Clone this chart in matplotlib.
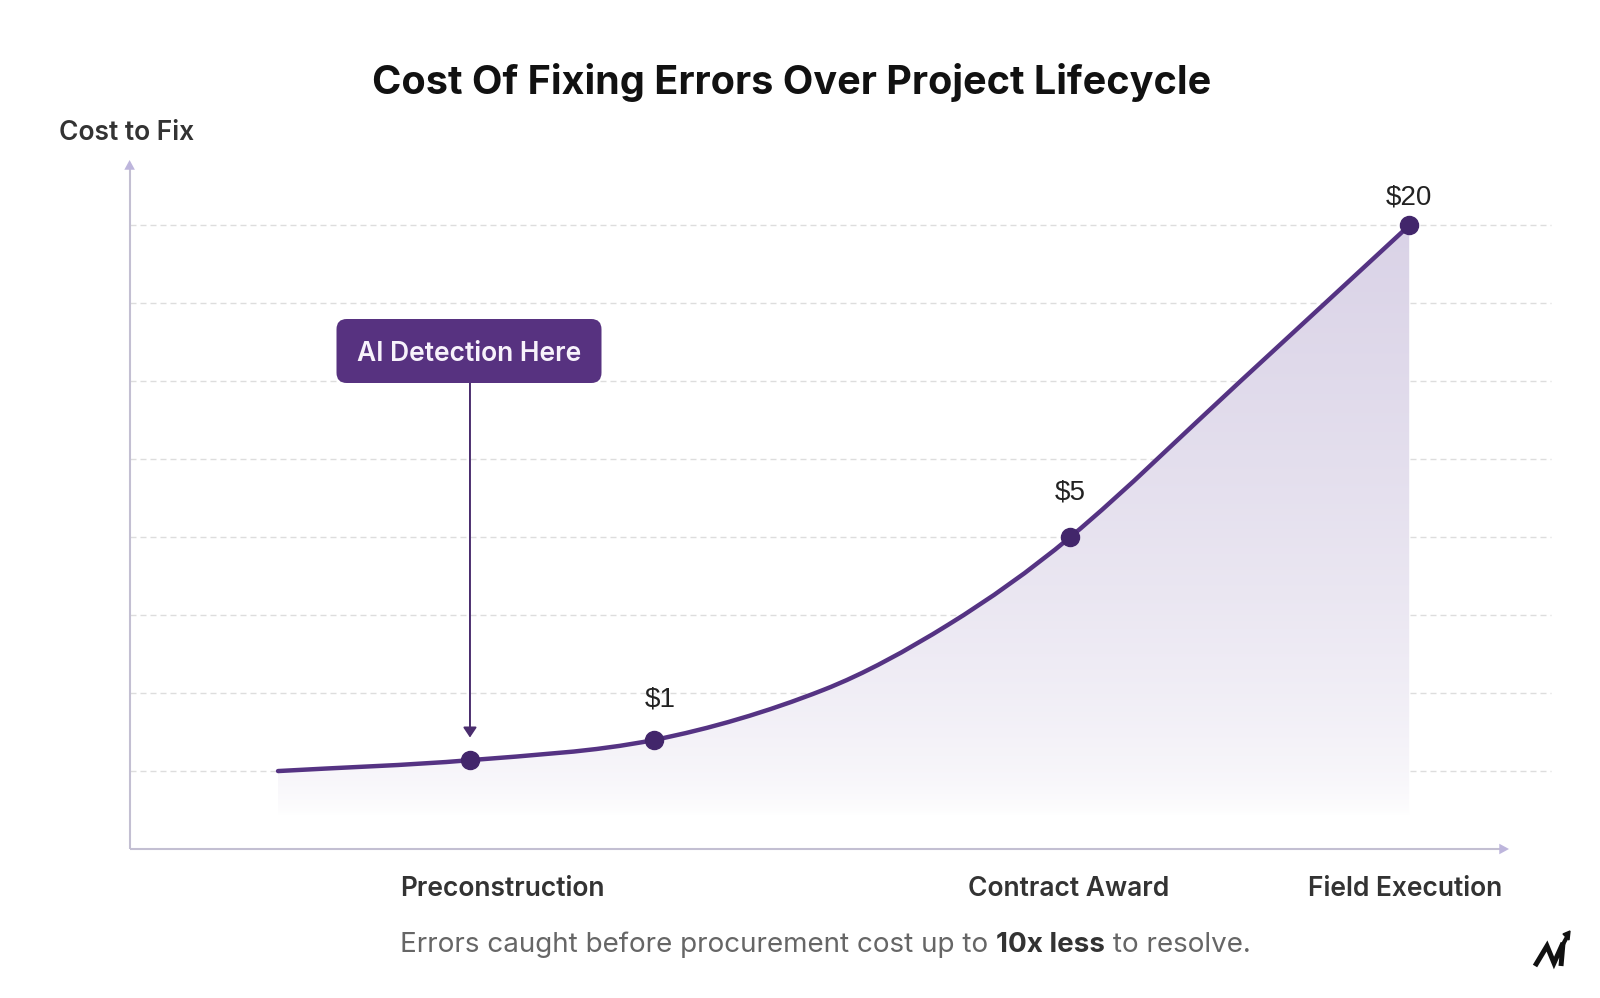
import matplotlib
matplotlib.use("Agg")
import numpy as np
import matplotlib.pyplot as plt
from matplotlib.patches import Polygon, FancyBboxPatch, PathPatch
from matplotlib.path import Path
from matplotlib.lines import Line2D

# curve (x = project progress, y = relative cost height)
curve_x = [11.6, 26.6, 41.0, 54.2, 64.0, 73.5, 86.8, 100.0]
curve_y = [1.00, 1.14, 1.40, 2.04, 2.88, 4.00, 6.00, 8.00]

cost_labels = ["$1", "$5", "$20"]
cost_x = [41.0, 73.5, 100.0]
cost_y = [1.40, 4.00, 8.00]

ai_label = "AI Detection Here"
ai_x = 26.6
ai_y = 1.14

stage_labels = ["Preconstruction", "Contract Award", "Field Execution"]
stage_x = [29.1, 73.4, 99.7]

grid_levels = [1, 2, 3, 4, 5, 6, 7, 8]

title = "Cost Of Fixing Errors Over Project Lifecycle"
y_title = "Cost to Fix"
note_parts = ["Errors caught before procurement cost up to ", "10x less", " to resolve."]

# layout: pixel scale of the data units
W, H = 1600, 998
PX_X, PX_Y = 12.796, 77.94
X0_PX, Y0_PX = 129.6, 849.0

LINE = "#553383"
DOT = "#42266b"
BOX = "#573280"
AXIS = "#c3bfd2"
HEAD = "#bdb5dc"
TXT = "#333333"

plt.rcParams["font.family"] = ["Inter", "DejaVu Sans"]

fig = plt.figure(figsize=(W / 100, H / 100), dpi=100)
ax = fig.add_axes([0, 0, 1, 1])
ax.set_xlim(-X0_PX / PX_X, (W - X0_PX) / PX_X)
ax.set_ylim(-(H - Y0_PX) / PX_Y, Y0_PX / PX_Y)
ax.set_autoscale_on(False)
ax.axis("off")


def fig_xy(px, py):
    return px / W, 1 - py / H


def smooth_path(xs, ys):
    """Hermite curve y(x) through the points, written as cubic bezier segments."""
    xs = np.asarray(xs, float)
    ys = np.asarray(ys, float)
    n = len(xs)
    m = np.empty(n)
    m[0] = (ys[1] - ys[0]) / (xs[1] - xs[0])
    m[-1] = (ys[-1] - ys[-2]) / (xs[-1] - xs[-2])
    m[1:-1] = (ys[2:] - ys[:-2]) / (xs[2:] - xs[:-2])
    verts = [(xs[0], ys[0])]
    codes = [Path.MOVETO]
    for i in range(n - 1):
        h = (xs[i + 1] - xs[i]) / 3
        verts += [(xs[i] + h, ys[i] + m[i] * h),
                  (xs[i + 1] - h, ys[i + 1] - m[i + 1] * h),
                  (xs[i + 1], ys[i + 1])]
        codes += [Path.CURVE4] * 3
    return np.array(verts), codes


# dashed grid
for g in grid_levels:
    ax.plot([0, 111.1], [g, g], color="#dddddd", lw=1, dashes=(4.3, 2.9), zorder=1)

# axes with arrows
ax.plot([0, 0], [0, 8.75], color=AXIS, lw=1.5, zorder=2, solid_capstyle="butt")
ax.plot([0, 107.2], [0, 0], color=AXIS, lw=1.5, zorder=2, solid_capstyle="butt")
ax.annotate("", xy=(0, 8.84), xytext=(0, 8.6),
            arrowprops=dict(arrowstyle="-|>,head_length=0.7,head_width=0.38",
                            color=HEAD, lw=0, mutation_scale=10, shrinkA=0, shrinkB=0))
ax.annotate("", xy=(107.8, 0), xytext=(106.5, 0),
            arrowprops=dict(arrowstyle="-|>,head_length=0.7,head_width=0.38",
                            color=HEAD, lw=0, mutation_scale=10, shrinkA=0, shrinkB=0))

verts, codes = smooth_path(curve_x, curve_y)

# gradient fill under the curve
fill_bottom = 0.42
fverts = np.vstack([verts, [[curve_x[-1], fill_bottom], [curve_x[0], fill_bottom], verts[0]]])
fcodes = codes + [Path.LINETO, Path.LINETO, Path.CLOSEPOLY]
clip = PathPatch(Path(fverts, fcodes), facecolor="none", edgecolor="none")
ax.add_patch(clip)
t = np.linspace(0, 1, 256) ** 0.6
top = np.array([218, 211, 231]) / 255
grad = np.ones((256, 1, 4))
for i in range(3):
    grad[:, 0, i] = 1 - (1 - top[i]) * t
im = ax.imshow(grad, extent=[curve_x[0], curve_x[-1], fill_bottom, max(curve_y)],
               origin="lower", aspect="auto", zorder=2, interpolation="bilinear")
im.set_clip_path(clip)

# curve and points
ax.add_patch(PathPatch(Path(verts, codes), facecolor="none", edgecolor=LINE, lw=3.2,
                       capstyle="round", joinstyle="round", zorder=4))
ax.plot(cost_x + [ai_x], cost_y + [ai_y], "o", color=DOT, ms=13, zorder=5)

label_offsets = [(4, 29), (0, 32), (0, 20)]
for lab, x, y, off in zip(cost_labels, cost_x, cost_y, label_offsets):
    ax.annotate(lab, (x, y), xytext=off, textcoords="offset points",
                ha="center", va="center", fontsize=20, color="#222222",
                family=["Liberation Sans", "DejaVu Sans"])

# callout box and arrow
bx0, bx1 = (336.5 - X0_PX) / PX_X, (601.5 - X0_PX) / PX_X
by0, by1 = (Y0_PX - 383) / PX_Y, (Y0_PX - 319) / PX_Y
box = FancyBboxPatch((bx0, by0), bx1 - bx0, by1 - by0,
                     boxstyle="round,pad=0,rounding_size=0.8",
                     mutation_aspect=PX_X / PX_Y, facecolor=BOX, edgecolor="none", zorder=6)
ax.add_patch(box)
ax.text((bx0 + bx1) / 2, (by0 + by1) / 2, ai_label, ha="center", va="center_baseline",
        fontsize=19, color="#f7f2fb", fontweight="semibold", zorder=7)
ax.annotate("", xy=(ai_x, ai_y + 0.29), xytext=(ai_x, by0),
            arrowprops=dict(arrowstyle="-|>,head_length=0.6,head_width=0.4",
                            color="#4a2d6e", lw=1.4, mutation_scale=10,
                            shrinkA=0, shrinkB=0), zorder=5)

# stage labels
for lab, x in zip(stage_labels, stage_x):
    ax.text(x, -0.47, lab, ha="center", va="center_baseline", fontsize=19,
            color=TXT, fontweight="semibold")

# titles
fig.text(*fig_xy(792, 78), title, ha="center", va="center_baseline",
         fontsize=28.5, fontweight="bold", color="#111111")
fig.text(*fig_xy(59, 130), y_title, ha="left", va="center_baseline",
         fontsize=19, fontweight="semibold", color=TXT)

# footnote with bold middle part
prev = fig.text(*fig_xy(400, 942), note_parts[0], ha="left", va="center_baseline",
                fontsize=20, color="#666666")
prev = ax.annotate(note_parts[1], xy=(1, 0), xycoords=prev, ha="left", va="bottom",
                   fontsize=20, color=TXT, fontweight="bold")
ax.annotate(note_parts[2], xy=(1, 0), xycoords=prev, ha="left", va="bottom",
            fontsize=20, color="#666666")

# little logo mark
def logo_line(pts, lw=3.6):
    xs, ys = zip(*[fig_xy(px, py) for px, py in pts])
    fig.add_artist(Line2D(xs, ys, color="#111111", lw=lw, transform=fig.transFigure,
                          solid_capstyle="butt", solid_joinstyle="miter"))

logo_line([(1535, 966), (1547, 946), (1554, 963), (1563, 943), (1561, 966)])
logo_line([(1562, 946), (1567, 937)], lw=3)
fig.add_artist(Polygon([fig_xy(1570, 931), fig_xy(1563, 934), fig_xy(1569, 940)],
                       closed=True, color="#111111", transform=fig.transFigure))

fig.savefig("out.png", dpi=100)
